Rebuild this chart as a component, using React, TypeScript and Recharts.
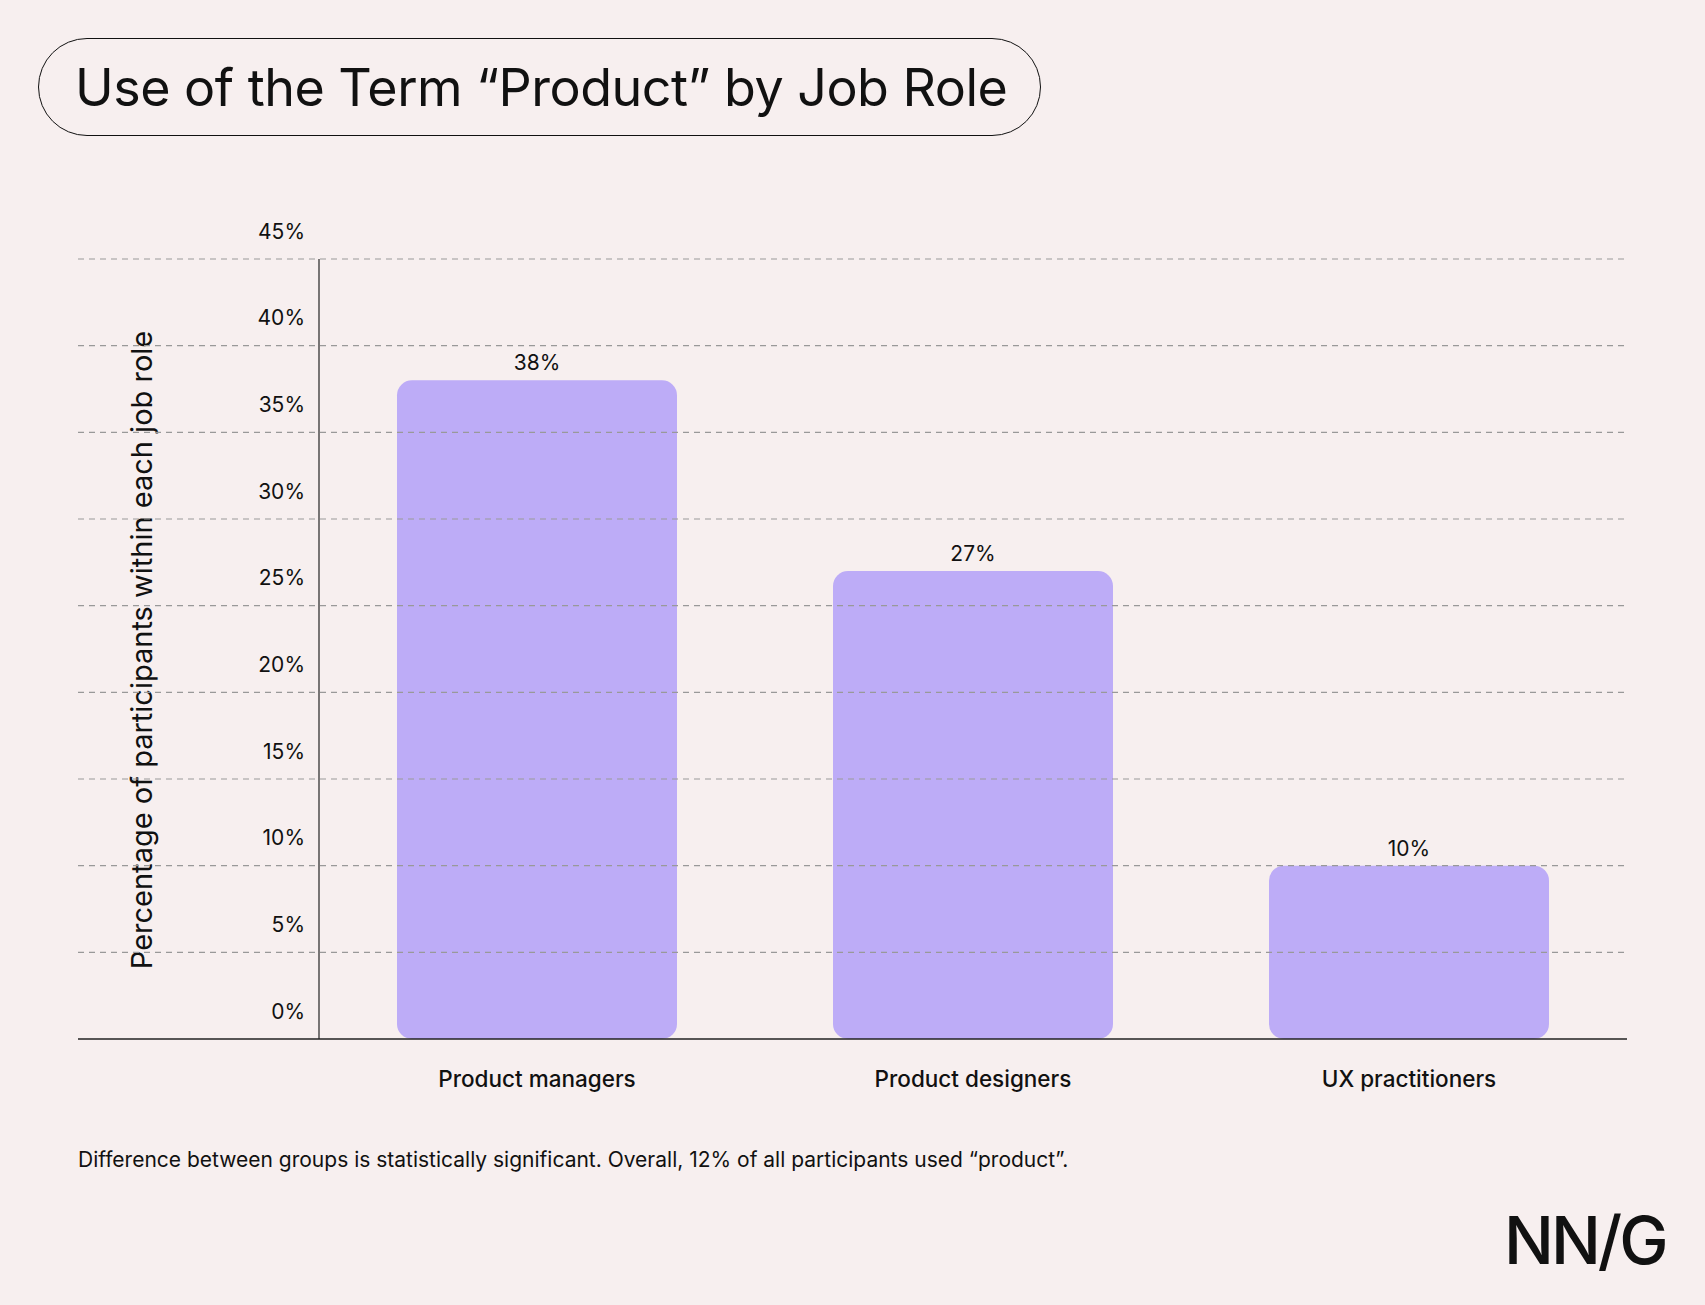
import React from "react";
import { BarChart, Bar, XAxis, YAxis, LabelList } from "recharts";

const categories = ["Product managers", "Product designers", "UX practitioners"];
const values = [38, 27, 10];
const yTicks = [0, 5, 10, 15, 20, 25, 30, 35, 40, 45];
const data = categories.map((c, i) => ({ name: c, value: values[i] }));

const FONT = "Inter, 'Open Sans', sans-serif";

const YTick = (p: any) => {
  const { y, payload } = p;
  const v = payload.value;
  return (
    <g>
      <line x1={78} x2={1627} y1={y} y2={y} stroke={v === 0 ? "#222" : "#999"}
        strokeWidth={v === 0 ? 1.5 : 1.2} strokeDasharray={v === 0 ? undefined : "6 5"} />
      <text x={305} y={y - 26} textAnchor="end" dominantBaseline="middle"
        fontSize={21} fill="#111" fontFamily={FONT}>{v}%</text>
    </g>
  );
};

export default function App() {
  return (
    <div style={{ position: "absolute", left: 0, top: 0, width: 1705, height: 1305, background: "#F7EFEF", fontFamily: FONT, overflow: "hidden" }}>
      <div style={{ position: "absolute", left: 38, top: 38, width: 1003, height: 98, boxSizing: "border-box",
        border: "1.5px solid #111", borderRadius: 49, display: "flex", alignItems: "center", paddingLeft: 36,
        fontSize: 52, color: "#111", letterSpacing: -0.5 }}>
        Use of the Term “Product” by Job Role
      </div>
      <div style={{ position: "absolute", left: 141, top: 650, transform: "translate(-50%,-50%) rotate(-90deg)",
        whiteSpace: "nowrap", fontSize: 29, color: "#111" }}>
        Percentage of participants within each job role
      </div>
      <BarChart width={1705} height={1305} data={data}
        margin={{ top: 259, bottom: 265, left: 318, right: 78 }}>
        <XAxis dataKey="name" height={1} axisLine={false} tickLine={false} tickMargin={26}
          tick={{ fontSize: 22.5, fill: "#111", fontFamily: FONT, fontWeight: 500 }} />
        <YAxis width={1} domain={[0, 45]} ticks={yTicks} tick={<YTick />} tickLine={false}
          axisLine={{ stroke: "#222", strokeWidth: 1.2 }} interval={0} />
        <Bar dataKey="value" fill="#BDACF7" barSize={280} radius={[15, 15, 15, 15]} isAnimationActive={false}>
          <LabelList dataKey="value" position="top" offset={10} formatter={(v: any) => `${v}%`}
            style={{ fontSize: 21, fill: "#111", fontFamily: FONT }} />
        </Bar>
      </BarChart>
      <div style={{ position: "absolute", left: 78, top: 1147, fontSize: 21, color: "#111" }}>
        Difference between groups is statistically significant. Overall, 12% of all participants used “product”.
      </div>
      <div style={{ position: "absolute", left: 1504, top: 1200, fontSize: 66, color: "#111", fontWeight: 500, letterSpacing: -3 }}>
        NN/G
      </div>
    </div>
  );
}
